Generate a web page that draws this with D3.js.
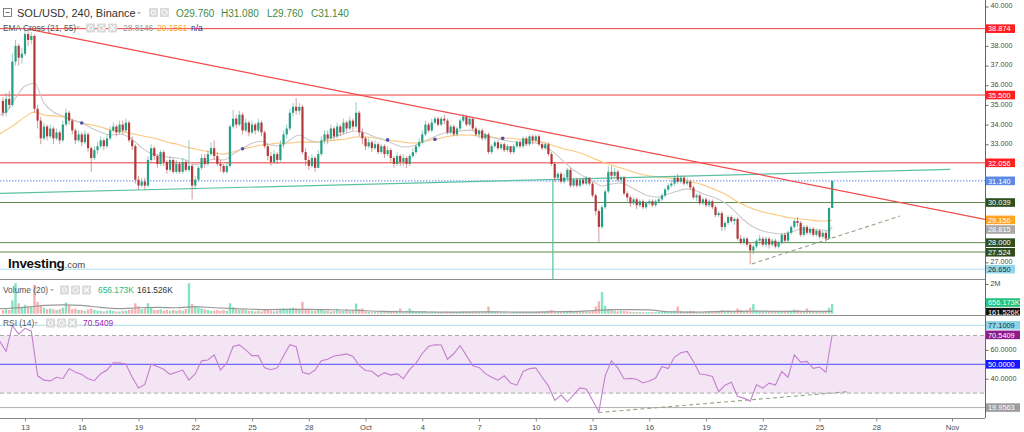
<!DOCTYPE html>
<html>
<head>
<meta charset="utf-8">
<script src="https://cdn.jsdelivr.net/npm/d3@7"></script>
<style>
body { margin: 0; background: #fff; }
svg { display: block; font-family: "Liberation Sans", Arial, sans-serif; }
</style>
</head>
<body>
<svg id="chart" width="1024" height="432"></svg>
<script>
// ---- Data (SOL/USD, 4h candles, Binance) ----
const first_candle = "2022-09-11T20:00";
const first_open = 35.2;

const closes = [
    34.6,                                  // Sep 11 20:00
    35.3, 35.0, 37.2, 38.0, 37.4, 37.6,    // Sep 12
    38.6, 38.3, 38.5, 34.8, 34.2, 33.3,    // Sep 13
    33.9, 33.4, 33.8, 33.3, 33.6, 33.2,    // Sep 14
    34.0, 34.6, 34.2, 33.7, 33.2, 33.5,    // Sep 15
    33.1, 33.5, 32.8, 32.3, 32.7, 32.9,    // Sep 16
    33.2, 32.9, 33.3, 33.7, 33.9, 33.6,    // Sep 17
    34.0, 33.7, 34.1, 33.2, 32.9, 31.2,    // Sep 18
    30.9, 31.1, 30.9, 32.2, 32.8, 32.4,    // Sep 19
    32.0, 32.6, 32.1, 31.7, 32.2, 31.6,    // Sep 20
    32.0, 31.6, 32.1, 31.7, 31.9, 30.9,    // Sep 21
    31.2, 31.8, 32.3, 32.0, 32.5, 32.8,    // Sep 22
    32.4, 32.0, 31.9, 31.6, 31.9, 33.9,    // Sep 23
    34.3, 34.0, 34.5, 33.7, 34.1, 33.6,    // Sep 24
    34.0, 33.7, 34.1, 33.6, 32.9, 32.4,    // Sep 25
    32.1, 32.5, 32.2, 33.0, 33.5, 33.8,    // Sep 26
    34.6, 34.9, 34.7, 34.9, 32.6, 32.2,    // Sep 27
    31.9, 32.3, 31.8, 32.5, 33.2, 33.5,    // Sep 28
    33.3, 33.8, 33.4, 33.9, 33.6, 34.1,    // Sep 29
    33.8, 34.2, 33.9, 34.6, 33.6, 33.3,    // Sep 30
    32.9, 33.1, 32.8, 33.0, 32.6, 32.9,    // Oct 1
    32.5, 32.7, 32.3, 32.0, 32.4, 32.1,    // Oct 2
    32.3, 32.0, 32.4, 32.6, 32.9, 33.1,    // Oct 3
    33.5, 34.0, 33.7, 34.1, 34.3, 34.0,    // Oct 4
    34.3, 34.2, 33.6, 33.9, 33.5, 33.8,    // Oct 5
    34.2, 34.4, 34.0, 34.3, 33.8, 33.5,    // Oct 6
    33.7, 33.3, 33.5, 32.6, 32.9, 33.1,    // Oct 7
    32.8, 33.0, 32.7, 32.9, 32.6, 32.9,    // Oct 8
    33.1, 32.9, 33.3, 33.0, 33.4, 33.2,    // Oct 9
    33.4, 33.0, 32.8, 33.0, 32.5, 32.0,    // Oct 10
    31.3, 31.5, 31.1, 31.3, 31.7, 30.9,    // Oct 11
    31.2, 30.9, 31.2, 31.0, 31.3, 31.0,    // Oct 12
    30.4, 29.6, 28.8, 29.8, 30.6, 31.6,    // Oct 13
    31.4, 31.6, 31.2, 31.3, 30.5, 30.3,    // Oct 14
    30.0, 30.2, 29.9, 30.1, 29.8, 30.0,    // Oct 15
    30.1, 29.9, 30.1, 30.2, 30.4, 30.7,    // Oct 16
    30.9, 31.0, 31.3, 31.1, 31.3, 31.0,    // Oct 17
    31.1, 30.8, 30.3, 30.4, 30.0, 30.2,    // Oct 18
    29.9, 30.1, 29.8, 29.4, 29.5, 28.8,    // Oct 19
    29.0, 29.3, 29.1, 29.2, 28.2, 28.0,    // Oct 20
    28.2, 27.9, 27.6, 27.8, 28.1, 28.2,    // Oct 21
    27.9, 28.2, 27.9, 28.1, 27.8, 28.0,    // Oct 22
    28.4, 28.1, 28.5, 28.8, 29.1, 29.0,    // Oct 23
    28.4, 28.8, 28.5, 28.7, 28.4, 28.6,    // Oct 24
    28.3, 28.5, 28.2, 29.76, 31.14         // Oct 25
];

const highs = [
    35.4,
    35.6, 35.7, 37.6, 38.3, 38.1, 37.9,
    38.87, 38.8, 38.7, 38.6, 35.0, 34.4,
    34.1, 34.0, 34.0, 33.9, 33.8, 33.7,
    34.2, 34.8, 34.7, 34.3, 33.8, 33.7,
    33.6, 33.7, 33.6, 32.9, 32.9, 33.1,
    33.4, 33.3, 33.5, 33.9, 34.1, 34.0,
    34.2, 34.2, 34.3, 34.2, 33.4, 33.0,
    31.4, 31.3, 31.3, 32.4, 33.0, 32.9,
    32.5, 32.7, 32.7, 32.2, 32.4, 32.3,
    32.2, 32.1, 32.3, 32.2, 33.2, 32.0,
    31.4, 31.9, 32.5, 32.5, 32.7, 33.1,
    33.2, 32.6, 32.2, 32.0, 32.1, 34.0,
    34.74, 34.5, 34.7, 34.6, 34.3, 34.2,
    34.2, 34.1, 34.3, 34.2, 33.7, 33.0,
    32.6, 32.7, 32.6, 33.2, 33.7, 34.0,
    34.8, 35.1, 35.35, 35.1, 35.0, 32.8,
    32.4, 32.5, 32.4, 32.7, 33.4, 33.7,
    33.7, 34.0, 33.9, 34.1, 34.0, 34.3,
    34.2, 34.4, 34.3, 35.15, 34.7, 33.8,
    33.4, 33.3, 33.2, 33.2, 33.1, 33.0,
    33.0, 32.9, 32.8, 32.4, 32.6, 32.5,
    32.5, 32.4, 32.5, 32.8, 33.0, 33.3,
    33.7, 34.2, 34.1, 34.3, 34.4, 34.4,
    34.4, 34.5, 34.3, 34.0, 34.0, 33.9,
    34.3, 34.55, 34.5, 34.4, 34.3, 33.9,
    33.8, 33.8, 33.6, 33.6, 33.0, 33.2,
    33.2, 33.1, 33.1, 33.0, 32.9, 33.0,
    33.2, 33.2, 33.4, 33.4, 33.5, 33.5,
    33.5, 33.5, 33.1, 33.1, 33.1, 32.6,
    32.1, 31.6, 31.6, 31.5, 31.8, 31.8,
    31.3, 31.3, 31.3, 31.3, 31.4, 31.3,
    31.1, 30.5, 29.7, 29.9, 30.7, 31.9,
    31.9, 31.8, 31.7, 31.4, 31.4, 30.6,
    30.4, 30.3, 30.3, 30.2, 30.2, 30.1,
    30.2, 30.2, 30.2, 30.3, 30.5, 30.8,
    31.0, 31.2, 31.4, 31.5, 31.4, 31.4,
    31.3, 31.2, 30.9, 30.5, 30.5, 30.3,
    30.3, 30.2, 30.2, 29.9, 29.6, 29.6,
    29.1, 29.4, 29.4, 29.3, 29.3, 28.4,
    28.3, 28.3, 28.0, 27.9, 28.2, 28.4,
    28.3, 28.3, 28.3, 28.2, 28.2, 28.1,
    28.5, 28.5, 28.6, 28.9, 29.2, 29.3,
    29.1, 28.9, 28.9, 28.8, 28.8, 28.7,
    28.7, 28.6, 28.6, 29.8, 31.14
];

const lows = [
    34.4,
    34.4, 34.8, 34.9, 37.0, 37.0, 37.1,
    37.5, 38.0, 38.1, 34.6, 33.8, 33.0,
    33.2, 33.2, 33.3, 33.0, 33.2, 33.0,
    33.1, 33.9, 34.0, 33.5, 33.0, 33.1,
    32.9, 33.0, 32.6, 31.6, 32.2, 32.5,
    32.8, 32.7, 32.8, 33.2, 33.6, 33.4,
    33.5, 33.5, 33.6, 33.1, 32.7, 31.0,
    30.7, 30.8, 30.7, 30.8, 32.1, 32.2,
    31.8, 31.9, 31.9, 31.5, 31.6, 31.5,
    31.5, 31.5, 31.5, 31.6, 31.6, 30.2,
    30.7, 31.1, 31.7, 31.8, 31.9, 32.4,
    32.2, 31.9, 31.6, 31.5, 31.5, 31.8,
    33.8, 33.8, 33.9, 33.5, 33.6, 33.4,
    33.5, 33.5, 33.6, 33.4, 32.8, 32.2,
    31.9, 32.0, 32.0, 32.1, 32.8, 33.3,
    33.7, 34.4, 34.5, 34.5, 32.5, 31.9,
    31.7, 31.8, 31.6, 31.8, 32.4, 33.0,
    33.0, 33.2, 33.2, 33.3, 33.4, 33.5,
    33.6, 33.7, 33.7, 33.8, 33.4, 33.0,
    32.7, 32.8, 32.6, 32.7, 32.5, 32.5,
    32.3, 32.4, 32.1, 31.8, 31.9, 31.9,
    31.9, 31.8, 31.9, 32.3, 32.5, 32.8,
    33.0, 33.4, 33.6, 33.6, 34.0, 33.9,
    33.9, 34.0, 33.5, 33.5, 33.4, 33.4,
    33.7, 34.1, 33.9, 33.9, 33.7, 33.4,
    33.3, 33.2, 33.2, 32.5, 32.5, 32.8,
    32.7, 32.7, 32.6, 32.6, 32.5, 32.5,
    32.8, 32.8, 32.8, 32.9, 32.9, 33.0,
    33.1, 32.9, 32.7, 32.7, 32.4, 31.9,
    31.1, 31.2, 31.0, 31.0, 31.2, 30.8,
    30.8, 30.8, 30.8, 30.9, 30.9, 30.9,
    30.3, 29.4, 28.03, 28.7, 29.7, 30.5,
    31.2, 31.3, 31.1, 31.0, 30.4, 30.1,
    29.8, 29.9, 29.7, 29.8, 29.7, 29.7,
    29.9, 29.8, 29.8, 30.0, 30.1, 30.3,
    30.6, 30.8, 30.9, 31.0, 31.0, 30.9,
    30.9, 30.7, 30.2, 30.1, 29.9, 29.9,
    29.8, 29.8, 29.7, 29.3, 29.3, 28.6,
    28.6, 28.9, 29.0, 28.9, 28.1, 27.9,
    27.9, 27.8, 26.9, 27.4, 27.7, 27.9,
    27.8, 27.8, 27.7, 27.8, 27.7, 27.7,
    27.9, 28.0, 28.0, 28.4, 28.7, 28.8,
    28.3, 28.3, 28.4, 28.4, 28.3, 28.3,
    28.2, 28.2, 28.05, 28.2, 29.76
];

// volume per candle, thousands
const volumes_k = [
    250,
    300, 250, 900, 2050, 700, 400,
    600, 500, 450, 1950, 800, 550,
    400, 300, 350, 300, 250, 300,
    400, 750, 550, 300, 350, 250,
    250, 200, 300, 350, 250, 200,
    200, 150, 200, 250, 200, 150,
    150, 200, 200, 250, 300, 700,
    500, 300, 350, 700, 400, 250,
    250, 300, 200, 250, 200, 250,
    200, 250, 200, 300, 2050, 650,
    450, 400, 350, 300, 250, 200,
    200, 250, 200, 250, 200, 700,
    450, 300, 250, 300, 250, 200,
    200, 150, 200, 150, 300, 250,
    200, 150, 200, 300, 350, 300,
    350, 400, 350, 300, 800, 300,
    250, 200, 200, 300, 250, 200,
    200, 150, 200, 330, 200, 200,
    300, 200, 250, 680, 300, 350,
    150, 120, 100, 120, 100, 130,
    130, 150, 120, 200, 200, 350,
    150, 200, 350, 200, 150, 130,
    150, 180, 120, 150, 130, 100,
    120, 100, 150, 120, 100, 110,
    130, 150, 120, 100, 110, 120,
    100, 110, 150, 480, 150, 120,
    100, 90, 100, 80, 90, 100,
    110, 90, 120, 100, 130, 110,
    120, 150, 130, 120, 200, 250,
    200, 150, 130, 120, 180, 220,
    150, 120, 130, 120, 140, 130,
    250, 480, 820, 1450, 520, 250,
    300, 200, 150, 200, 180, 150,
    130, 100, 120, 110, 100, 90,
    100, 110, 100, 120, 130, 150,
    150, 180, 200, 480, 200, 150,
    150, 200, 180, 130, 120, 110,
    100, 120, 110, 130, 150, 250,
    200, 220, 150, 180, 350, 250,
    200, 250, 400, 650, 250, 200,
    150, 180, 130, 150, 120, 140,
    150, 130, 160, 200, 280, 250,
    200, 180, 350, 200, 180, 150,
    150, 130, 200, 400, 656.173
];

// volume MA(20), daily samples from Sep 11, thousands
const vol_ma_start = "2022-09-11T00:00";
const vol_ma = [330, 350, 420, 560, 600, 560, 420, 340, 400, 420, 400, 480, 400, 340, 300,
    280, 290, 290, 270, 250, 200, 150, 130, 120, 110, 110, 120, 120, 110, 110,
    130, 140, 200, 280, 280, 260, 130, 100, 120, 150, 160, 170, 150, 160, 160];
const vol_ma_last = 161.526;

// EMA cross (21, 55), 12h samples from Sep 11 12:00
const ema_start = "2022-09-11T12:00";
const ema21 = [34.45, 34.64, 35.35, 35.96, 36.10, 35.10, 34.64, 34.44, 34.23, 34.08,
    33.83, 33.62, 33.47, 33.52, 33.37, 32.96, 32.61, 32.45, 32.35, 32.30,
    32.20, 31.95, 32.10, 32.25, 32.20, 32.50, 32.78, 33.05, 33.15, 32.96,
    32.91, 33.22, 33.47, 33.22, 33.11, 33.27, 33.42, 33.57, 33.67, 33.57,
    33.37, 33.22, 33.01, 32.86, 32.91, 33.11, 33.32, 33.52, 33.62, 33.67,
    33.72, 33.62, 33.42, 33.27, 33.17, 33.11, 33.11, 33.06, 32.86, 32.55,
    32.10, 31.69, 31.39, 31.13, 30.88, 30.98, 31.03, 30.83, 30.57, 30.37,
    30.32, 30.47, 30.62, 30.73, 30.62, 30.42, 30.27, 30.02, 29.61, 29.15,
    28.79, 28.59, 28.49, 28.44, 28.54, 28.69, 28.64, 28.64, 28.62];
const ema55 = [33.42, 33.72, 34.03, 34.39, 34.64, 34.49, 34.44, 34.39, 34.23, 34.08,
    33.98, 33.88, 33.72, 33.67, 33.57, 33.47, 33.37, 33.27, 33.11, 33.01,
    32.86, 32.76, 32.66, 32.56, 32.50, 32.61, 32.76, 32.86, 32.96, 33.01,
    33.06, 33.06, 33.11, 33.11, 33.11, 33.17, 33.22, 33.27, 33.37, 33.37,
    33.32, 33.22, 33.17, 33.11, 33.06, 33.11, 33.22, 33.32, 33.42, 33.47,
    33.47, 33.42, 33.37, 33.32, 33.32, 33.27, 33.22, 33.17, 33.06, 32.91,
    32.76, 32.66, 32.50, 32.30, 32.10, 31.95, 31.79, 31.64, 31.49, 31.39,
    31.34, 31.29, 31.23, 31.13, 31.03, 30.88, 30.68, 30.47, 30.17, 29.91,
    29.71, 29.56, 29.46, 29.35, 29.25, 29.20, 29.15, 29.10, 29.10];
const ema21_last = 28.8146;
const ema55_last = 29.1561;
const ema_crosses = [["2022-09-16T00:00", 34.08], ["2022-09-24T12:00", 32.77], ["2022-10-02T04:00", 33.22],
    ["2022-10-04T16:00", 33.25], ["2022-10-08T06:00", 33.30]];

// RSI(14), 8h samples from Sep 11 16:00
const rsi_start = "2022-09-11T16:00";
const rsi = [66, 59, 77, 71, 75, 73, 42, 39, 38.5, 41,
    40, 47, 44.5, 43, 40, 38.6, 43.5, 46, 51, 51,
    50, 41, 33.5, 36, 50, 48.5, 46.5, 43, 44.5, 46,
    39, 43.5, 52.4, 53, 56.5, 46, 51, 62.4, 63.5, 60,
    56, 56, 47.5, 46.2, 47.5, 56, 63.6, 62.2, 44.5, 43.2,
    46, 52.5, 53.5, 55.8, 56.4, 57.2, 55.5, 49.3, 45.7, 45.2,
    41.5, 44.2, 42.5, 43.5, 40, 46.5, 50.8, 57.5, 62.5, 63.6,
    63.4, 53.5, 57.5, 63, 56, 49, 47.8, 43.5, 41, 39,
    42, 37, 35.5, 45, 47, 47.5, 41, 35, 25, 28.6,
    24, 29, 33.6, 32.8, 25, 17, 42, 52.5, 47.5, 39.8,
    40.2, 39.6, 37, 38.4, 40.5, 48.5, 47, 55, 58, 59,
    52, 43.3, 42.7, 41.5, 31, 35.5, 37.5, 27.6, 26.5, 24.3,
    35.8, 33.5, 36.9, 35.6, 45, 41, 56.5, 51.5, 52, 47.2,
    48.1, 44.5, 70.5409];
const rsi_levels = { top: 77.1009, upper: 70, mid: 50, lower: 30, bottom: 19.9563 };

// horizontal levels and drawn lines
const resistance_levels = [38.874, 35.5, 32.056];
const support_levels = [30.039, 28.0, 27.524];
const low_level = 26.65;
const red_trend = [["2022-09-13T04:00", 38.85], ["2022-11-02T18:00", 29.18]];
const teal_trend = [["2022-09-11T16:00", 30.5], ["2022-10-31T22:00", 31.72]];
const teal_drop = ["2022-10-10T21:40", 31.22, 25.5];
const price_dash = [["2022-10-21T10:00", 26.92], ["2022-10-29T06:00", 29.35]];
const rsi_dash = [["2022-10-13T07:30", 16.5], ["2022-10-26T12:00", 31.0]];

const x_ticks = ["2022-09-13", "2022-09-16", "2022-09-19", "2022-09-22", "2022-09-25", "2022-09-28",
    "2022-10-01", "2022-10-04", "2022-10-07", "2022-10-10", "2022-10-13", "2022-10-16",
    "2022-10-19", "2022-10-22", "2022-10-25", "2022-10-28", "2022-11-01"];
const price_ticks = d3.range(27, 41);
const rsi_ticks = [20, 40, 60, 80];

// ---- Layout ----
const axis_x = 985;
const price_bottom = 279, vol_top = 280, vol_bottom = 315, rsi_top = 316, rsi_bottom = 418;
const up_color = '#26a084', down_color = '#b2383a';
const tag_h = 8.6, tag_gap = 9.6;

const parse_time = d3.utcParse("%Y-%m-%dT%H:%M");
const parse_day = d3.utcParse("%Y-%m-%d");

const x = d3.scaleUtc()
    .domain([parse_day("2022-09-13"), parse_day("2022-11-01")])
    .range([25, 952]);
const y_price = d3.scaleLinear().domain([26, 40]).range([282.0, 6.5]);
const y_vol = d3.scaleLinear().domain([0, 2100]).range([313.7, 282.5]);
const y_rsi = d3.scaleLinear().domain([0, 100]).range([436.3, 292.3]);

const t0 = parse_time(first_candle);
const candles = closes.map((c, i) => {
    const o = i === 0 ? first_open : closes[i - 1];
    return { t: d3.utcHour.offset(t0, 4 * i), o: o, c: c, h: highs[i], l: lows[i], v: volumes_k[i] };
});
const last = candles[candles.length - 1];

function series(start, step_h, values) {
    const s = parse_time(start);
    return values.map((v, i) => ({ t: d3.utcHour.offset(s, step_h * i), v: v }));
}
const ema21_pts = series(ema_start, 12, ema21).concat([{ t: last.t, v: ema21_last }]);
const ema55_pts = series(ema_start, 12, ema55).concat([{ t: last.t, v: ema55_last }]);
const vol_ma_pts = series(vol_ma_start, 24, vol_ma).concat([{ t: last.t, v: vol_ma_last }]);
const rsi_pts = series(rsi_start, 8, rsi);

const svg = d3.select('#chart');
const defs = svg.append('defs');
function clip(id, y0, y1) {
    defs.append('clipPath').attr('id', id)
        .append('rect').attr('x', 0).attr('y', y0).attr('width', axis_x).attr('height', y1 - y0);
}
clip('clip-price', 0, price_bottom);
clip('clip-vol', vol_top, vol_bottom);
clip('clip-rsi', rsi_top, rsi_bottom);

const price_g = svg.append('g').attr('clip-path', 'url(#clip-price)');
const vol_g = svg.append('g').attr('clip-path', 'url(#clip-vol)');
const rsi_g = svg.append('g').attr('clip-path', 'url(#clip-rsi)');

function hline(g, yv, color, dash, width) {
    g.append('line')
        .attr('x1', 0).attr('x2', axis_x)
        .attr('y1', yv).attr('y2', yv)
        .attr('stroke', color).attr('stroke-width', width || 1)
        .attr('stroke-dasharray', dash || null);
}
function seg(g, p, yscale, color, dash, width) {
    g.append('line')
        .attr('x1', x(parse_time(p[0][0]))).attr('y1', yscale(p[0][1]))
        .attr('x2', x(parse_time(p[1][0]))).attr('y2', yscale(p[1][1]))
        .attr('stroke', color).attr('stroke-width', width || 1)
        .attr('stroke-dasharray', dash || null);
}

// ---- Price panel ----
hline(price_g, y_price(low_level), '#a9dbe8');
support_levels.forEach(p => hline(price_g, y_price(p), '#5f8a4c'));
resistance_levels.forEach(p => hline(price_g, y_price(p), '#f23b3b'));
hline(price_g, y_price(last.c), '#7f9ff0', '1.5,1.5', 1.2);

const line_gen = d3.line().x(d => x(d.t)).curve(d3.curveMonotoneX);
price_g.append('path').datum(ema55_pts)
    .attr('d', line_gen.y(d => y_price(d.v)))
    .attr('fill', 'none').attr('stroke', '#fbc77c').attr('stroke-width', 1.1);
price_g.append('path').datum(ema21_pts)
    .attr('d', line_gen.y(d => y_price(d.v)))
    .attr('fill', 'none').attr('stroke', '#c9c9c9').attr('stroke-width', 1.1);

seg(price_g, teal_trend, y_price, '#5cc0a4', null, 1.2);
price_g.append('line')
    .attr('x1', x(parse_time(teal_drop[0]))).attr('x2', x(parse_time(teal_drop[0])))
    .attr('y1', y_price(teal_drop[1])).attr('y2', y_price(teal_drop[2]))
    .attr('stroke', '#5cc0a4').attr('stroke-width', 1.2);

// candles
const candle_g = price_g.append('g');
candle_g.selectAll('line.wick')
    .data(candles)
    .join('line')
    .attr('class', 'wick')
    .attr('x1', d => x(d.t)).attr('x2', d => x(d.t))
    .attr('y1', d => y_price(Math.max(d.h, d.o, d.c)))
    .attr('y2', d => y_price(Math.min(d.l, d.o, d.c)))
    .attr('stroke', d => d.c >= d.o ? up_color : down_color)
    .attr('stroke-opacity', 0.5).attr('stroke-width', 1);
candle_g.selectAll('rect.body')
    .data(candles)
    .join('rect')
    .attr('class', 'body')
    .attr('x', d => x(d.t) - 1.1).attr('width', 2.2)
    .attr('y', d => y_price(Math.max(d.o, d.c)))
    .attr('height', d => Math.max(0.8, Math.abs(y_price(d.o) - y_price(d.c))))
    .attr('fill', d => d.c >= d.o ? up_color : down_color);

seg(price_g, red_trend, y_price, '#f24a4a', null, 1.2);
seg(price_g, price_dash, y_price, '#93a386', '4,3', 1.1);

price_g.selectAll('circle.cross')
    .data(ema_crosses)
    .join('circle')
    .attr('cx', d => x(parse_time(d[0]))).attr('cy', d => y_price(d[1]))
    .attr('r', 1.8).attr('fill', '#5050a8');

// Investing logo
const logo = svg.append('text').attr('x', 8).attr('y', 268);
logo.append('tspan').text('Investing').attr('font-weight', 'bold').attr('font-size', 13.5)
    .attr('fill', '#111').attr('letter-spacing', -0.3);
logo.append('tspan').text('.com').attr('font-size', 9.5).attr('fill', '#444');

// ---- Volume panel ----
vol_g.selectAll('rect.vol')
    .data(candles)
    .join('rect')
    .attr('class', 'vol')
    .attr('x', d => x(d.t) - 1.2).attr('width', 2.4)
    .attr('y', d => y_vol(d.v))
    .attr('height', d => y_vol(0) - y_vol(d.v))
    .attr('fill', d => d.c >= d.o ? '#84e3c0' : '#f7b0b0');
vol_g.append('path').datum(vol_ma_pts)
    .attr('d', d3.line().x(d => x(d.t)).y(d => y_vol(d.v)).curve(d3.curveMonotoneX))
    .attr('fill', 'none').attr('stroke', '#999').attr('stroke-width', 1.2);

// ---- RSI panel ----
rsi_g.append('rect')
    .attr('x', 0).attr('width', axis_x)
    .attr('y', y_rsi(rsi_levels.upper))
    .attr('height', y_rsi(rsi_levels.lower) - y_rsi(rsi_levels.upper))
    .attr('fill', '#f3e5f4');
hline(rsi_g, y_rsi(rsi_levels.top), '#a8dce9');
hline(rsi_g, y_rsi(rsi_levels.upper), '#aaa', '4,3');
hline(rsi_g, y_rsi(rsi_levels.lower), '#aaa', '4,3');
hline(rsi_g, y_rsi(rsi_levels.mid), '#4b4bff');
hline(rsi_g, y_rsi(rsi_levels.bottom), '#b0b0b0');
rsi_g.append('path').datum(rsi_pts)
    .attr('d', d3.line().x(d => x(d.t)).y(d => y_rsi(d.v)))
    .attr('fill', 'none').attr('stroke', '#c47fd0').attr('stroke-width', 1.1);
seg(rsi_g, rsi_dash, y_rsi, '#93a386', '4,3', 1.1);

// ---- Frame / separators ----
[price_bottom + 0.5, vol_bottom + 0.5].forEach(yv => {
    svg.append('line').attr('x1', 0).attr('x2', axis_x).attr('y1', yv).attr('y2', yv)
        .attr('stroke', '#8c8c8c').attr('stroke-width', 1);
});
svg.append('line').attr('x1', axis_x + 0.5).attr('x2', axis_x + 0.5).attr('y1', 0).attr('y2', rsi_bottom)
    .attr('stroke', '#666');

// ---- Axis tags: place them first, push apart where they would collide ----
const f3 = d3.format('.3f'), f4 = d3.format('.4f');
function spread(list) {
    list.sort((a, b) => a.y - b.y);
    for (let i = 1; i < list.length; i++) {
        if (list[i].y < list[i - 1].y + tag_gap) list[i].y = list[i - 1].y + tag_gap;
    }
    return list;
}
const price_tags = spread([
    ...resistance_levels.map(p => ({ v: p, bg: '#ff1f1f', fg: '#fff' })),
    { v: last.c, bg: '#5d88e6', fg: '#fff' },
    { v: support_levels[0], bg: '#2f4e1d', fg: '#fff' },
    { v: ema55_last, bg: '#ffa522', fg: '#fff' },
    { v: ema21_last, bg: '#a9a9a9', fg: '#fff' },
    { v: support_levels[1], bg: '#2f4e1d', fg: '#fff' },
    { v: support_levels[2], bg: '#2f4e1d', fg: '#fff' },
    { v: low_level, bg: '#94d6e8', fg: '#12303a' }
].map(d => Object.assign(d, { y: y_price(d.v), s: f3(d.v) })));
const vol_tags = spread([
    { y: y_vol(last.v) - 1.4, s: '656.173K', bg: '#20c27c', fg: '#fff' },
    { y: y_vol(vol_ma_last), s: '161.526K', bg: '#111', fg: '#fff' }
]);
const rsi_tags = spread([
    { v: rsi_levels.top, bg: '#8fd3e6', fg: '#12303a' },
    { v: rsi[rsi.length - 1], bg: '#8c1c8c', fg: '#fff' },
    { v: rsi_levels.mid, bg: '#1717ff', fg: '#fff' },
    { v: rsi_levels.bottom, bg: '#9e9e9e', fg: '#fff' }
].map(d => Object.assign(d, { y: y_rsi(d.v), s: f4(d.v) })));

// ---- Axes ----
function right_axis(scale, ticks, fmt, top, bottom, tag_list) {
    const g = svg.append('g')
        .attr('transform', `translate(${axis_x + 0.5},0)`)
        .call(d3.axisRight(scale).tickValues(ticks).tickFormat(fmt).tickSize(3).tickPadding(2));
    g.select('.domain').remove();
    g.selectAll('.tick')
        .filter(d => scale(d) < top || scale(d) > bottom || tag_list.some(t => Math.abs(t.y - scale(d)) < 6.5))
        .remove();
    g.selectAll('.tick line').attr('stroke', '#666');
    g.selectAll('.tick text').attr('font-size', 7.2).attr('fill', '#4a4a4a').attr('dy', '0.2em')
        .attr('font-family', '"Liberation Sans", Arial, sans-serif');
    return g;
}
right_axis(y_price, price_ticks, d3.format('.3f'), 2, price_bottom, price_tags);
right_axis(y_vol, [2000], d => '2M', vol_top, vol_bottom, vol_tags);
right_axis(y_rsi, rsi_ticks, d3.format('.4f'), rsi_top + 3, rsi_bottom, rsi_tags);

const x_axis = svg.append('g')
    .attr('transform', `translate(0,${rsi_bottom + 0.5})`)
    .call(d3.axisBottom(x)
        .tickValues(x_ticks.map(parse_day))
        .tickFormat(d => d.getUTCDate() === 1 ? d3.utcFormat('%b')(d) : d.getUTCDate())
        .tickSize(3).tickPadding(3));
x_axis.select('.domain').attr('d', `M0,0H${axis_x}`).attr('stroke', '#888');
x_axis.selectAll('.tick line').attr('stroke', '#888');
x_axis.selectAll('.tick text').attr('font-size', 7.6).attr('fill', '#4a4a4a')
    .attr('font-family', '"Liberation Sans", Arial, sans-serif');

// ---- Draw tags ----
const tags = svg.append('g');
function axis_tag(d, w) {
    tags.append('rect')
        .attr('x', axis_x + 1).attr('y', d.y - tag_h / 2)
        .attr('width', w).attr('height', tag_h)
        .attr('fill', d.bg);
    tags.append('text')
        .attr('x', axis_x + 3).attr('y', d.y + 2.8)
        .attr('font-size', 7.4).attr('fill', d.fg)
        .text(d.s);
}
price_tags.forEach(d => axis_tag(d, 29));
vol_tags.forEach(d => axis_tag(d, 34));
svg.append('rect').attr('x', axis_x + 1).attr('y', vol_bottom + 0.5).attr('width', 40).attr('height', 2).attr('fill', '#fff');
rsi_tags.forEach(d => axis_tag(d, 34));

// ---- Legends ----
const hdr = svg.append('g');
function icons(x0, y0, n) {
    for (let i = 0; i < n; i++) {
        const cx = x0 + i * 11;
        hdr.append('rect').attr('x', cx).attr('y', y0).attr('width', 9).attr('height', 9)
            .attr('rx', 1).attr('fill', '#dadada');
        if (i === 0) {
            hdr.append('circle').attr('cx', cx + 4.5).attr('cy', y0 + 4.5).attr('r', 2.2)
                .attr('fill', 'none').attr('stroke', '#fff').attr('stroke-width', 1);
        } else if (i === 1) {
            hdr.append('circle').attr('cx', cx + 4.5).attr('cy', y0 + 4.5).attr('r', 2.5)
                .attr('fill', 'none').attr('stroke', '#fff').attr('stroke-width', 1.4).attr('stroke-dasharray', '1.2,0.8');
        } else {
            hdr.append('path').attr('d', `M${cx + 2},${y0 + 2}L${cx + 7},${y0 + 7}M${cx + 7},${y0 + 2}L${cx + 2},${y0 + 7}`)
                .attr('stroke', '#fff').attr('stroke-width', 1.2);
        }
    }
}
function caret(x0, y0) {
    hdr.append('path').attr('d', `M${x0},${y0}l4,0l-2,2.5z`).attr('fill', '#b5b5b5');
}
function txt(x0, y0, s, size, color, weight) {
    hdr.append('text').attr('x', x0).attr('y', y0).attr('font-size', size)
        .attr('fill', color).attr('font-weight', weight || null).text(s);
}

// main title
hdr.append('rect').attr('x', 3.5).attr('y', 8.5).attr('width', 8).attr('height', 8)
    .attr('fill', '#fff').attr('stroke', '#777').attr('stroke-width', 0.9);
hdr.append('line').attr('x1', 5.5).attr('x2', 9.5).attr('y1', 12.5).attr('y2', 12.5).attr('stroke', '#777');
txt(17, 17, 'SOL/USD, 240, Binance', 11, '#333');
caret(137, 12);
icons(149, 8, 2);
const ohlc = [['O', last.o], ['H', 31.08], ['L', last.o], ['C', last.c]];
const ohlc_x = [176, 221, 267, 311];
ohlc.forEach((d, i) => txt(ohlc_x[i], 17, d[0] + f3(d[1]), 10, '#3f8a43'));

// EMA legend
txt(3, 30.5, 'EMA Cross (21, 55)', 8.4, '#555');
caret(76, 26.5);
icons(86, 23.5, 3);
txt(123, 30.5, ema21_last.toFixed(4), 8.4, '#9a9a9a');
txt(157, 30.5, ema55_last.toFixed(4), 8.4, '#f7a52a');
txt(191, 30.5, 'n/a', 8.4, '#2a2a9a');

// Volume legend
txt(3, 293, 'Volume (20)', 8.4, '#555');
caret(50, 289);
icons(60, 285.5, 3);
txt(98, 293, '656.173K', 8.4, '#26b97a');
txt(137, 293, '161.526K', 8.4, '#333');

// RSI legend
txt(3, 326, 'RSI (14)', 8.4, '#555');
caret(34, 322);
icons(46, 318.5, 3);
txt(83, 326, f4(rsi[rsi.length - 1]), 8.4, '#9c27b0');
</script>
</body>
</html>
